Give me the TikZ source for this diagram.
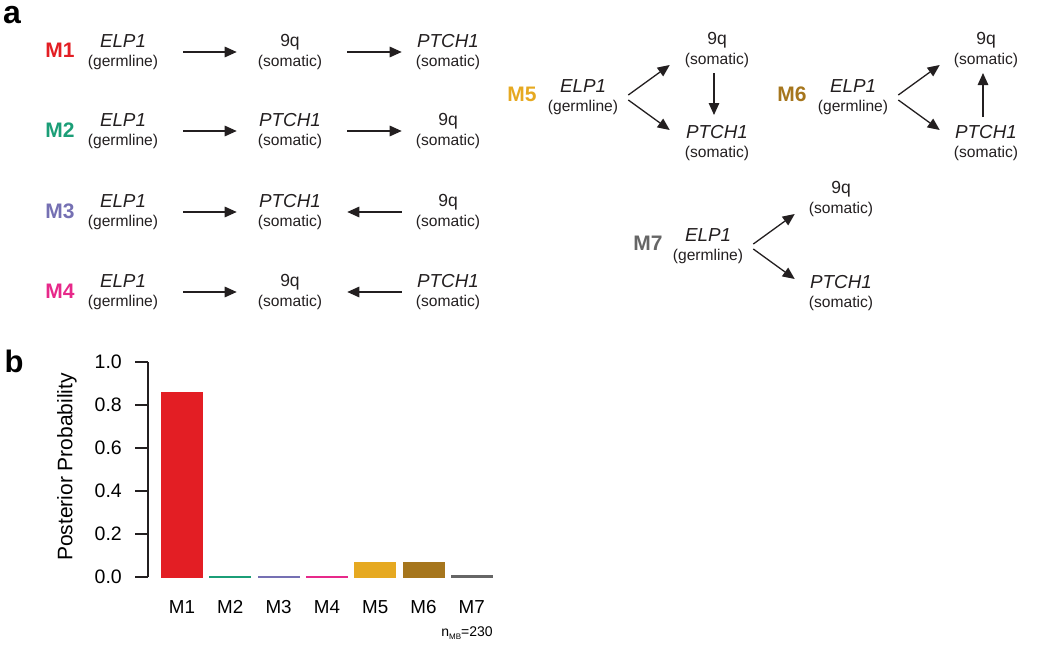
\documentclass[tikz,border=0pt]{standalone}
\usepackage{fontspec}
\setmainfont{Liberation Sans}
\usepackage{tikz}
\usetikzlibrary{arrows.meta,positioning,calc}
\definecolor{mone}{HTML}{E31E24}
\definecolor{mtwo}{HTML}{1B9E77}
\definecolor{mthree}{HTML}{7570B3}
\definecolor{mfour}{HTML}{E7298A}
\definecolor{mfive}{HTML}{E6A921}
\definecolor{msix}{HTML}{A6761D}
\definecolor{mseven}{HTML}{666666}
\definecolor{inkc}{HTML}{231F20}
\newcommand{\genesize}{\fontsize{18.8}{19.5}\selectfont}
\newcommand{\notesize}{\fontsize{15.6}{19.5}\selectfont}
\newcommand{\armsize}{\fontsize{17.5}{19.5}\selectfont}
\newcommand{\germ}{{\notesize(germline)}}
\newcommand{\soma}{{\notesize(somatic)}}

\begin{document}
\begin{tikzpicture}[x=1pt,y=-1pt,
    gene/.style={align=center,inner sep=0pt,text=inkc,font=\genesize},
    mlab/.style={inner sep=0pt,font=\fontsize{21}{21}\selectfont\bfseries},
    link/.style={-{Triangle[length=12pt,width=10.5pt]},line width=1.3pt,inkc},
    firstarr/.style={shorten <=25pt,shorten >=21pt},
    secondarr/.style={shorten <=25pt,shorten >=14pt},
    backarr/.style={shorten <=14pt,shorten >=25pt},
    axisline/.style={line width=1.3pt,inkc},
    ticklab/.style={inner sep=0pt,anchor=east,font=\fontsize{19.5}{19.5}\selectfont},
    barlab/.style={inner sep=0pt,font=\genesize}]
  \useasboundingbox (0,0) rectangle (1050,651);
  % panel letters
  \node[inner sep=0pt,font=\fontsize{32}{32}\selectfont\bfseries] (pa) at (12,15) {a};
  \node[inner sep=0pt,font=\fontsize{31}{31}\selectfont\bfseries] (pb) at (14,361) {b};
  % M1
  \node[mlab,mone] (l1) at (60,50) {M1};
  \node[gene] (g1) at (123,52) {\textit{ELP1}\\\germ};
  \node[gene] (q1) at (290,52) {\armsize 9q\\\soma};
  \node[gene] (p1) at (448,52) {\textit{PTCH1}\\\soma};
  \draw[link,firstarr] (g1) -- (q1);
  \draw[link,secondarr] (q1) -- (p1);
  % M2
  \node[mlab,mtwo] (l2) at (60,130) {M2};
  \node[gene] (g2) at (123,131) {\textit{ELP1}\\\germ};
  \node[gene] (p2) at (290,131) {\textit{PTCH1}\\\soma};
  \node[gene] (q2) at (448,131) {\armsize 9q\\\soma};
  \draw[link,firstarr] (g2) -- (p2);
  \draw[link,secondarr] (p2) -- (q2);
  % M3
  \node[mlab,mthree] (l3) at (60,211) {M3};
  \node[gene] (g3) at (123,212) {\textit{ELP1}\\\germ};
  \node[gene] (p3) at (290,212) {\textit{PTCH1}\\\soma};
  \node[gene] (q3) at (448,212) {\armsize 9q\\\soma};
  \draw[link,firstarr] (g3) -- (p3);
  \draw[link,backarr] (q3) -- (p3);
  % M4
  \node[mlab,mfour] (l4) at (60,291) {M4};
  \node[gene] (g4) at (123,292) {\textit{ELP1}\\\germ};
  \node[gene] (q4) at (290,292) {\armsize 9q\\\soma};
  \node[gene] (p4) at (448,292) {\textit{PTCH1}\\\soma};
  \draw[link,firstarr] (g4) -- (q4);
  \draw[link,backarr] (p4) -- (q4);
  % M5
  \node[mlab,mfive] (l5) at (522,94) {M5};
  \node[gene] (g5) at (583,97) {\textit{ELP1}\\\germ};
  \node[gene] (q5) at (717,50) {\armsize 9q\\\soma};
  \node[gene] (p5) at (717,143) {\textit{PTCH1}\\\soma};
  \draw[link] ([xshift=10pt,yshift=2pt]g5.east) -- ([xshift=-15pt,yshift=-15pt]q5.west);
  \draw[link] ([xshift=10pt,yshift=-3pt]g5.east) -- ([xshift=-15pt,yshift=13pt]p5.west);
  \draw[link,shorten <=23pt,shorten >=28pt] ([xshift=-3pt]q5.center) -- ([xshift=-3pt]p5.center);
  % M6
  \node[mlab,msix] (l6) at (792,94) {M6};
  \node[gene] (g6) at (853,97) {\textit{ELP1}\\\germ};
  \node[gene] (q6) at (986,50) {\armsize 9q\\\soma};
  \node[gene] (p6) at (986,143) {\textit{PTCH1}\\\soma};
  \draw[link] ([xshift=10pt,yshift=2pt]g6.east) -- ([xshift=-14pt,yshift=-15pt]q6.west);
  \draw[link] ([xshift=10pt,yshift=-3pt]g6.east) -- ([xshift=-14pt,yshift=13pt]p6.west);
  \draw[link,shorten <=26pt,shorten >=23pt] ([xshift=-3pt]p6.center) -- ([xshift=-3pt]q6.center);
  % M7
  \node[mlab,mseven] (l7) at (648,243) {M7};
  \node[gene] (g7) at (708,246) {\textit{ELP1}\\\germ};
  \node[gene] (q7) at (841,199) {\armsize 9q\\\soma};
  \node[gene] (p7) at (841,293) {\textit{PTCH1}\\\soma};
  \draw[link] ([xshift=10pt,yshift=2pt]g7.east) -- ([xshift=-14pt,yshift=-15pt]q7.west);
  \draw[link] ([xshift=10pt,yshift=-3pt]g7.east) -- ([xshift=-14pt,yshift=14pt]p7.west);
  % bar chart axis
  \draw[axisline] (148,362) -- (148,577);
  \foreach \k/\lab in {0/0.0,1/0.2,2/0.4,3/0.6,4/0.8,5/1.0} {
    \draw[axisline] (135,{577-43*\k}) -- (148,{577-43*\k});
    \node[ticklab] (t\k) at (122,{577-43*\k}) {\lab};
  }
  \node[inner sep=0pt,rotate=90,font=\fontsize{21}{21}\selectfont] (ylab) at (67,467) {Posterior Probability};
  % bars
  \foreach \i/\v/\c/\m in {0/0.865/mone/M1,1/0.01/mtwo/M2,2/0.01/mthree/M3,3/0.01/mfour/M4,
      4/0.076/mfive/M5,5/0.076/msix/M6,6/0.016/mseven/M7} {
    \fill[\c] ({161+48.3*\i},578) rectangle ({203+48.3*\i},{578-215*\v});
    \node[barlab] (b\i) at ({182+48.3*\i},607) {\m};
  }
  \node[inner sep=0pt,font=\fontsize{14}{14}\selectfont] (nmb) at (467,633)
    {n\raisebox{-3pt}{\fontsize{8}{8}\selectfont MB}=230};
\end{tikzpicture}
\end{document}
